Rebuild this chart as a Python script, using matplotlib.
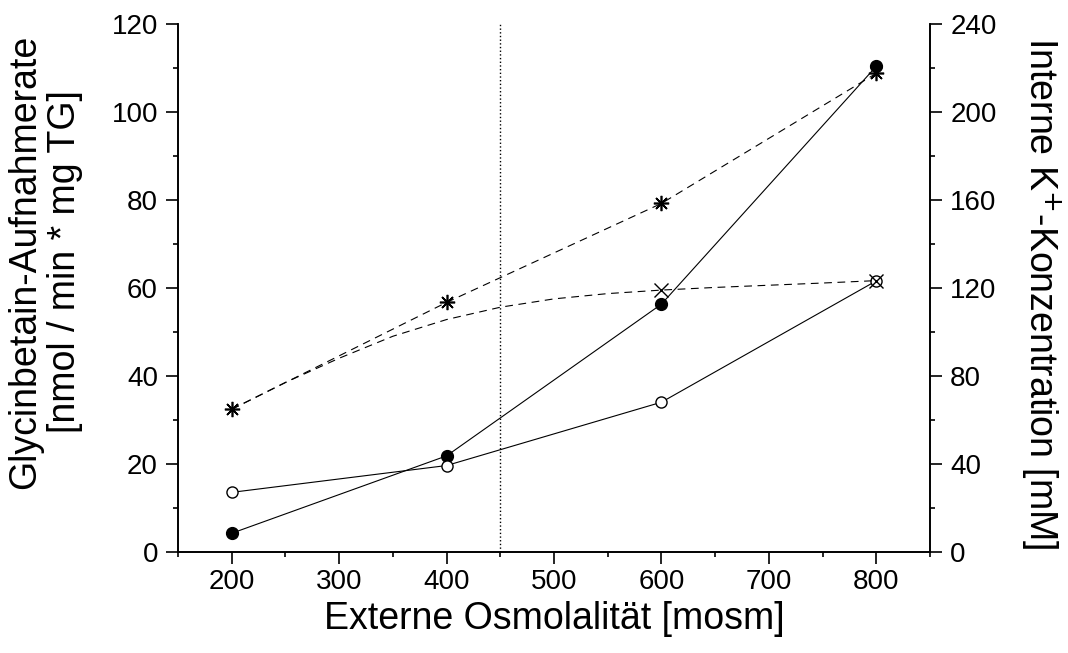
import matplotlib
matplotlib.use("Agg")
import matplotlib.pyplot as plt
from matplotlib.ticker import MultipleLocator

plt.rcParams['font.family'] = ['Liberation Sans', 'DejaVu Sans']

# externe Osmolalitaet [mosm]
osmo = [200, 400, 600, 800]

# Glycinbetain-Aufnahmerate (linke Achse)
rate_filled = [4.2, 21.8, 56.3, 110.4]
rate_open = [13.5, 19.6, 34.0, 61.6]

# interne K+-Konzentration (rechte Achse)
k_star = [64.8, 113.4, 158.4, 217.6]
k_cross = [64.8, 113.4, 119.0, 123.3]

# angepasste Kurve durch k_cross
fit_x = [200, 250, 300, 350, 400, 450, 500, 550, 600, 650, 700, 750, 800]
fit_y = [64.8, 77.0, 88.0, 98.0, 105.6, 111.2, 115.0, 117.4, 119.0, 120.2, 121.2, 122.2, 123.3]

grenze = 450

fig = plt.figure(figsize=(10.68, 6.53), dpi=100)
ax = fig.add_axes([0.1667, 0.1551, 0.7041, 0.8081])
ax2 = ax.twinx()

ax.axvline(grenze, color='k', linestyle=':', linewidth=1.0)

ax.plot(osmo, rate_filled, color='k', linewidth=0.8, marker='o',
        markersize=8.5, markerfacecolor='k', zorder=3)
ax.plot(osmo, rate_open, color='k', linewidth=0.8, marker='o',
        markersize=8, markerfacecolor='white', markeredgewidth=1.0, zorder=3)

ax2.plot(fit_x, fit_y, color='k', linewidth=0.8, dashes=(7, 5))
ax2.plot(osmo[2:], k_cross[2:], linestyle='none', marker='x', color='k',
         markersize=10, markeredgewidth=1.0)
ax2.plot(osmo, k_star, color='k', linewidth=0.8, dashes=(7, 5),
         marker=(8, 2, 0), markersize=11, markeredgewidth=1.2)

ax.set_xlim(150, 850)
ax.set_ylim(0, 120)
ax2.set_ylim(0, 240)

ax.xaxis.set_major_locator(MultipleLocator(100))
ax.xaxis.set_minor_locator(MultipleLocator(50))
ax.yaxis.set_major_locator(MultipleLocator(20))
ax.yaxis.set_minor_locator(MultipleLocator(10))
ax2.yaxis.set_major_locator(MultipleLocator(40))
ax2.yaxis.set_minor_locator(MultipleLocator(20))
ax.set_xticks([200, 300, 400, 500, 600, 700, 800])

for a in (ax, ax2):
    a.spines['top'].set_visible(False)
    for s in a.spines.values():
        s.set_linewidth(1.2)
    a.tick_params(which='major', direction='out', length=8.5, width=1.2,
                  labelsize=20)
    a.tick_params(which='minor', direction='out', length=3.5, width=1.2)
ax.tick_params(axis='x', which='major', pad=4)
ax.tick_params(axis='y', which='major', pad=6)
ax2.tick_params(axis='y', which='major', pad=6)

ax.set_xlabel('Externe Osmolalität [mosm]', fontsize=27)
ax.xaxis.set_label_coords(0.5, -0.093)
ax.set_ylabel('Glycinbetain-Aufnahmerate\n[nmol / min * mg TG]',
              fontsize=27, linespacing=1.15, va='center')
ax.yaxis.set_label_coords(-0.177, 0.55)
ax2.set_ylabel('Interne K$^{+}$-Konzentration [mM]', fontsize=27,
               rotation=270, va='center')
ax2.yaxis.set_label_coords(1.147, 0.49)

fig.savefig('out.png', dpi=100)
